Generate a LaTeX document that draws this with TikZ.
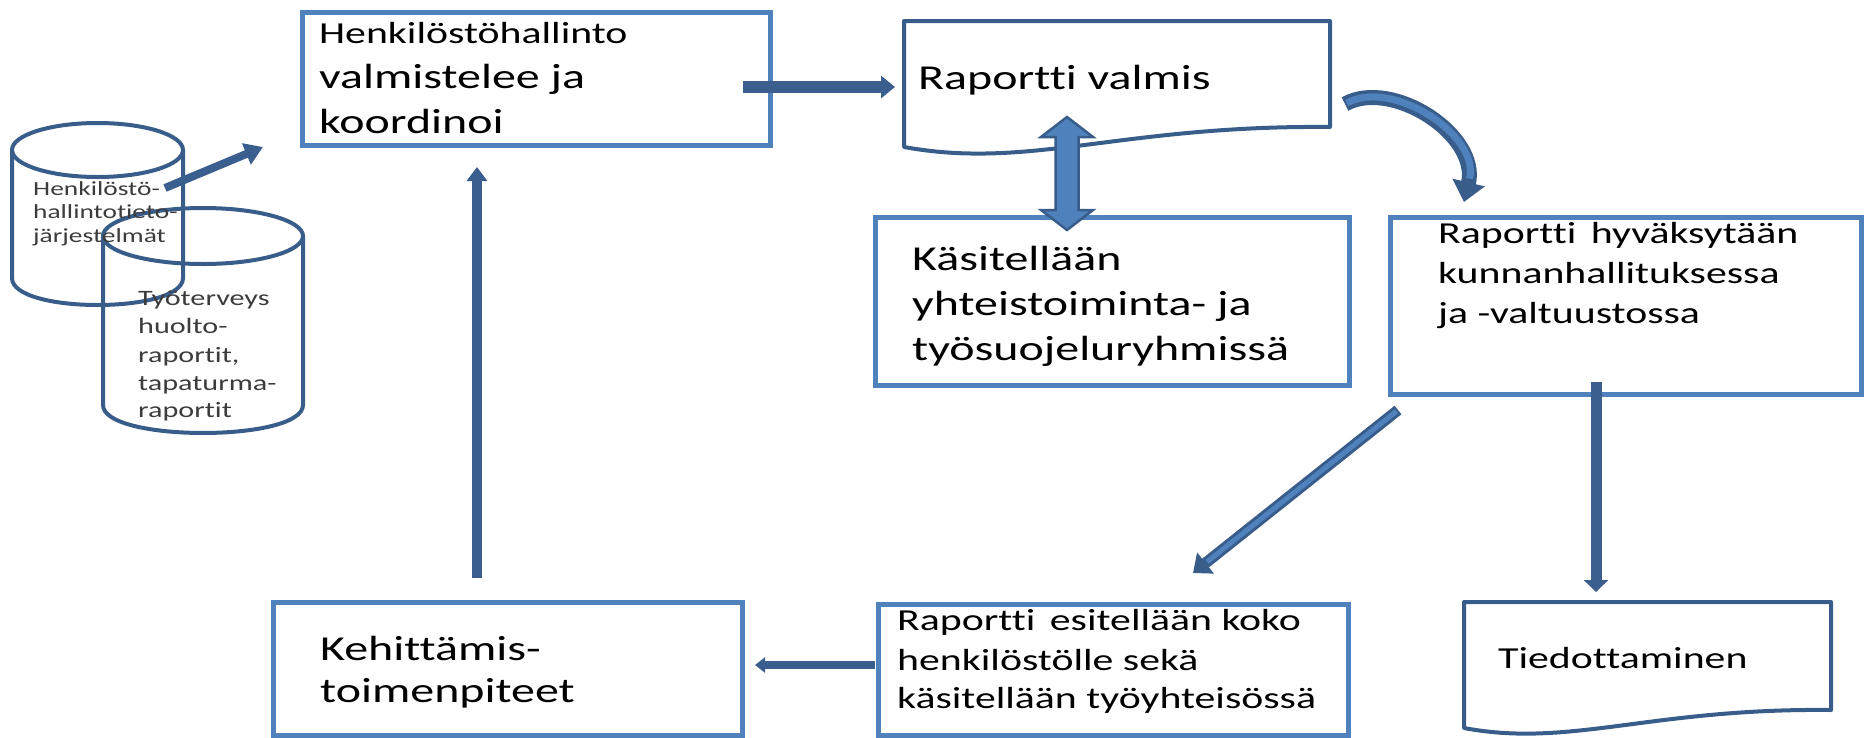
\documentclass[tikz,border=0pt]{standalone}
\usepackage{fontspec}
\newfontfamily\cf[FakeStretch=1.37,Ligatures=NoCommon]{Carlito}
\usetikzlibrary{arrows.meta,calc}
\definecolor{boxblue}{HTML}{4F81BD}
\definecolor{darkblue}{HTML}{385D8A}
\definecolor{arrowblue}{HTML}{3A5F8F}
\definecolor{graytext}{HTML}{3C3C3C}
\begin{document}
\begin{tikzpicture}[x=1pt,y=-1pt,
  box/.style={draw=boxblue, line width=5pt, rectangle, inner sep=0pt, anchor=north west},
  hidden/.style={rectangle, inner sep=0pt, anchor=north west},
  docline/.style={draw=darkblue, line width=4pt, line join=round},
  cylline/.style={draw=darkblue, line width=4pt},
  bigtxt/.style={anchor=base west, inner sep=0pt, font=\cf\fontsize{35}{42}\selectfont},
  smalltxt/.style={anchor=base west, inner sep=0pt, font=\cf\fontsize{30.5}{37}\selectfont},
  cyltxtA/.style={anchor=base west, inner sep=0pt, text=graytext, font=\cf\fontsize{20}{24}\selectfont},
  cyltxtB/.style={anchor=base west, inner sep=0pt, text=graytext, font=\cf\fontsize{22}{26}\selectfont},
  flowarrow/.style={draw=arrowblue, line width=#1},
  blockarrow/.style={fill=boxblue, draw=darkblue, line width=2.5pt, line join=miter}
]
\useasboundingbox (0,0) rectangle (1864,737);

% ---------- cylinders ----------
\draw[cylline] (97.5,150) ellipse [x radius=85.5, y radius=27];
\draw[cylline] (12,150) -- (12,278) .. controls (12,314) and (183,314) .. (183,278) -- (183,150);
\draw[cylline] (203,236) ellipse [x radius=100, y radius=28];
\draw[cylline] (103,236) -- (103,405) .. controls (103,442.3) and (303,442.3) .. (303,405) -- (303,236);
\node[hidden, minimum width=171pt, minimum height=182pt] (cylA) at (12,123) {};
\node[hidden, minimum width=200pt, minimum height=225pt] (cylB) at (103,208) {};

\node[cyltxtA] (ca1) at (33,195) {Henkilöstö-};
\node[cyltxtA] (ca2) at (33,218) {hallintotieto-};
\node[cyltxtA] (ca3) at (33,242) {järjestelmät};

\node[cyltxtB] (cb1) at (138,305) {Työterveys};
\node[cyltxtB] (cb2) at (138,333) {huolto-};
\node[cyltxtB] (cb3) at (138,362) {raportit,};
\node[cyltxtB] (cb4) at (138,390) {tapaturma-};
\node[cyltxtB] (cb5) at (138,417) {raportit};

% ---------- boxes ----------
\node[box, minimum width=468pt, minimum height=133pt] (b1) at (300,10) {};
\node[smalltxt] (t1a) at (319,43) {Henkilöstöhallinto};
\node[bigtxt] (t1b) at (319,88) {valmistelee ja};
\node[bigtxt] (t1c) at (319,133) {koordinoi};

% Raportti valmis (document)
\node[hidden, minimum width=426pt, minimum height=126pt] (rv) at (904,21) {};
\draw[docline] (904,147) -- (904,21) -- (1330,21) -- (1330,127)
  .. controls (1120,125) and (1030,170) .. (904,147) -- cycle;
\node[bigtxt] (trv) at (918,89) {Raportti valmis};

\node[box, minimum width=474pt, minimum height=168pt] (b2) at (873,215) {};
\node[bigtxt] (t2a) at (912,270) {Käsitellään};
\node[bigtxt] (t2b) at (912,315) {yhteistoiminta- ja};
\node[bigtxt] (t2c) at (912,360) {työsuojeluryhmissä};

\node[box, minimum width=471pt, minimum height=177pt] (b3) at (1388,215) {};
\node[smalltxt] (t3a) at (1438,243) {Raportti\, hyväksytään};
\node[smalltxt] (t3b) at (1438,283) {kunnanhallituksessa};
\node[smalltxt] (t3c) at (1438,323) {ja -valtuustossa};

% Tiedottaminen (document)
\node[hidden, minimum width=367pt, minimum height=126pt] (td) at (1464,602) {};
\draw[docline] (1464,728) -- (1464,602) -- (1831,602) -- (1831,710)
  .. controls (1650,708) and (1570,748) .. (1464,728) -- cycle;
\node[smalltxt] (ttd) at (1498,668) {Tiedottaminen};

\node[box, minimum width=470pt, minimum height=131pt] (b4) at (876,602) {};
\node[smalltxt] (t4a) at (897,630) {Raportti\, esitellään koko};
\node[smalltxt] (t4b) at (897,670) {henkilöstölle sekä};
\node[smalltxt] (t4c) at (897,708) {käsitellään työyhteisössä};

\node[box, minimum width=469pt, minimum height=133pt] (b5) at (271,600) {};
\node[bigtxt] (t5a) at (320,660) {Kehittämis-};
\node[bigtxt] (t5b) at (320,702) {toimenpiteet};

% ---------- connector end points ----------
\coordinate (c1s) at (165,188);
\coordinate (c1e) at (263,147);
\coordinate (a1s) at (743,87);
\coordinate (a1e) at (895,87);
\coordinate (dtop) at (1067,117);
\coordinate (dbot) at (1067,230);
\coordinate (cvs) at (1345,104);
\coordinate (cve) at (1464,202);
\coordinate (dgs) at (1398,410);
\coordinate (dge) at (1193,573);
\coordinate (vrs) at (1596,382);
\coordinate (vre) at (1596,592);
\coordinate (lfs) at (875,665);
\coordinate (lfe) at (755,665);
\coordinate (ups) at (477,578);
\coordinate (upe) at (477,167);

% ---------- connectors ----------
\draw[flowarrow=8pt, -{Triangle[width=22pt,length=18pt]}] (c1s) -- (c1e);
\draw[flowarrow=12pt, -{Triangle[width=22pt,length=14pt]}] (a1s) -- (a1e);

\draw[blockarrow] (dtop) -- ($(dtop)+(26,20)$) -- ($(dtop)+(11.5,20)$)
  -- ($(dbot)+(11.5,-20)$) -- ($(dbot)+(26,-20)$) -- (dbot)
  -- ($(dbot)+(-26,-20)$) -- ($(dbot)+(-11.5,-20)$)
  -- ($(dtop)+(-11.5,20)$) -- ($(dtop)+(-26,20)$) -- cycle;

\draw[draw=darkblue, line width=15pt, -{Triangle[width=32pt,length=20pt]}]
  (cvs) .. controls (1392,78) and (1480,135) .. (cve);
\draw[draw=boxblue, line width=7pt, shorten >=24pt, shorten <=2pt]
  (cvs) .. controls (1392,78) and (1480,135) .. (cve);

\draw[draw=darkblue, line width=11pt, -{Triangle[width=26pt,length=16pt]}] (dgs) -- (dge);
\draw[draw=boxblue, line width=5pt, shorten >=18pt, shorten <=2pt] (dgs) -- (dge);

\draw[flowarrow=11pt, -{Triangle[width=24pt,length=12pt]}] (vrs) -- (vre);
\draw[flowarrow=8pt, -{Triangle[width=15pt,length=10pt]}] (lfs) -- (lfe);
\draw[flowarrow=10pt, -{Triangle[width=20pt,length=14pt]}] (ups) -- (upe);
\end{tikzpicture}
\end{document}
